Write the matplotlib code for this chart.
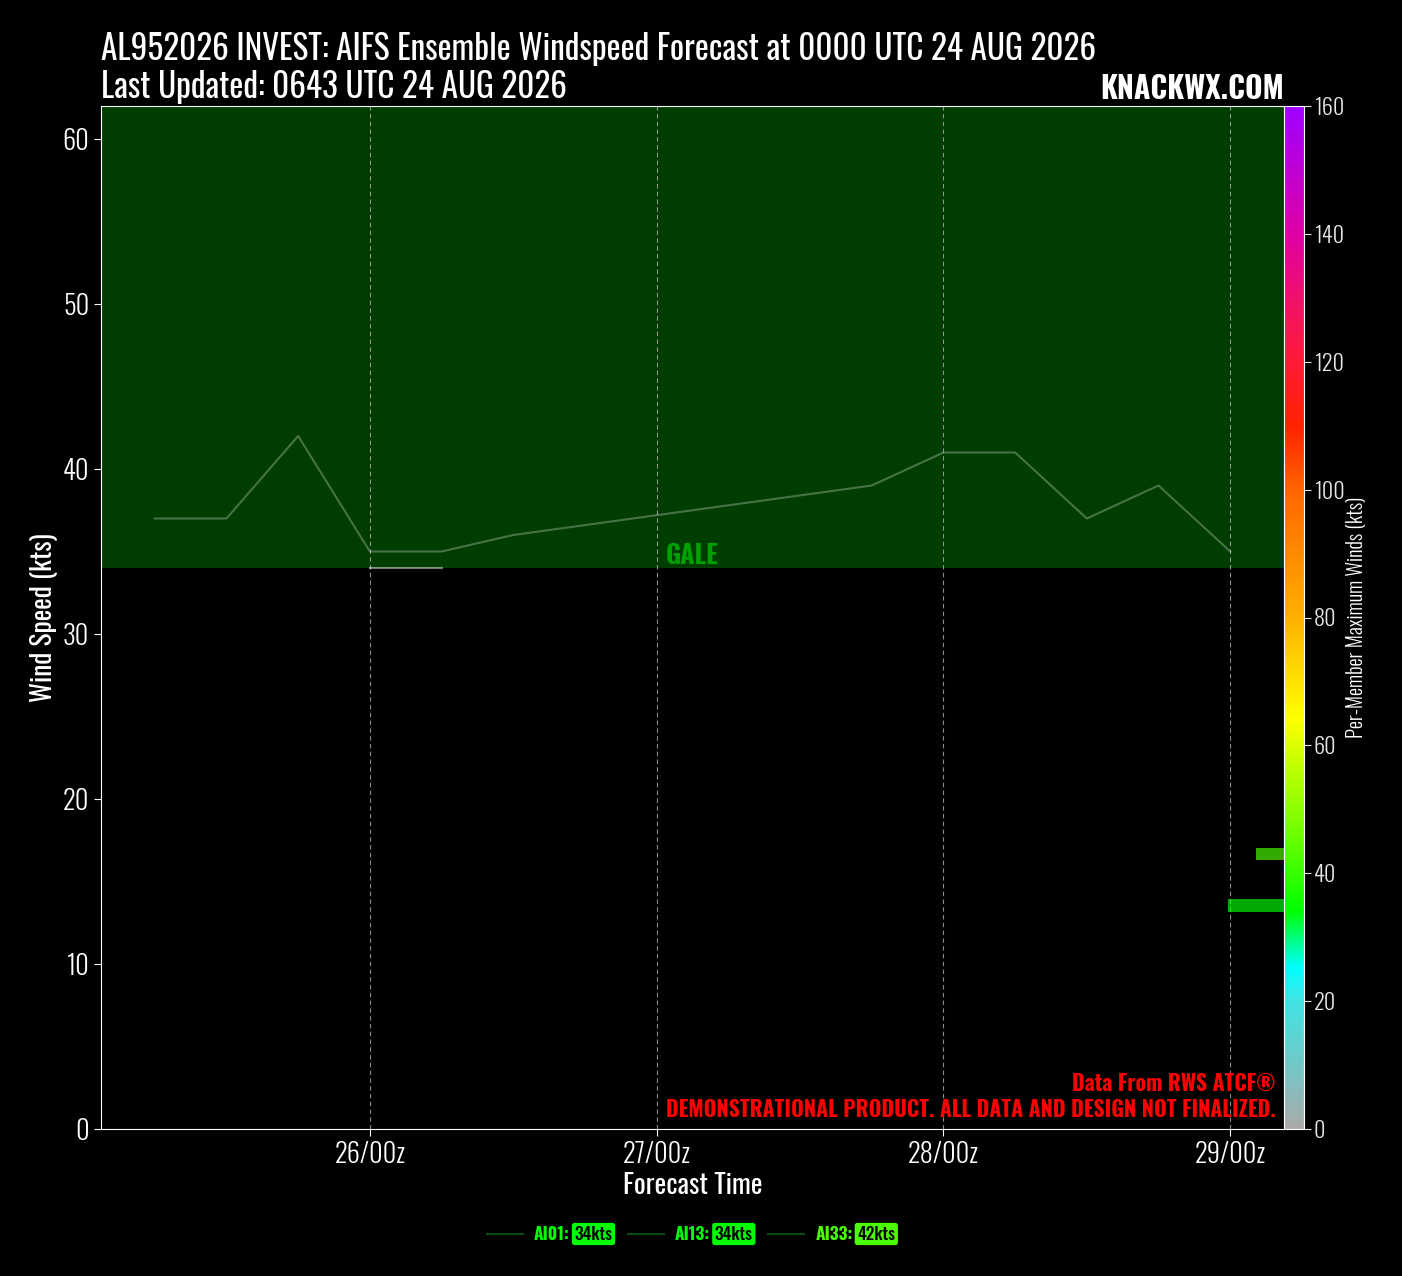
import os
import tempfile
import matplotlib
matplotlib.use("Agg")
import matplotlib.pyplot as plt
import matplotlib.dates as mdates
import matplotlib.font_manager as fm
import matplotlib.transforms as mtransforms
from matplotlib.font_manager import FontProperties
from matplotlib.colors import LinearSegmentedColormap, Normalize
from matplotlib.cm import ScalarMappable
from matplotlib.lines import Line2D

# ---------------- data ----------------
ai01_times = ["2026-08-26 00:00", "2026-08-26 06:00"]
ai01_winds = [34, 34]
ai13_times = ["2026-08-26 00:00", "2026-08-26 06:00"]
ai13_winds = [34, 34]
ai33_times = ["2026-08-25 06:00", "2026-08-25 12:00", "2026-08-25 18:00",
              "2026-08-26 00:00", "2026-08-26 06:00", "2026-08-26 12:00",
              "2026-08-27 18:00", "2026-08-28 00:00", "2026-08-28 06:00",
              "2026-08-28 12:00", "2026-08-28 18:00", "2026-08-29 00:00"]
ai33_winds = [37, 37, 42, 35, 35, 36, 39, 41, 41, 37, 39, 35]

members = ["AI01", "AI13", "AI33"]
member_max = [34, 34, 42]

xtick_times = ["2026-08-26 00:00", "2026-08-27 00:00", "2026-08-28 00:00", "2026-08-29 00:00"]
xtick_labels = ["26/00z", "27/00z", "28/00z", "29/00z"]
ytick_values = [0, 10, 20, 30, 40, 50, 60]
cbar_ticks = [0, 20, 40, 60, 80, 100, 120, 140, 160]

hist_bin_low = [34, 42]
hist_counts = [2, 1]

title1 = "AL952026 INVEST: AIFS Ensemble Windspeed Forecast at 0000 UTC 24 AUG 2026"
title2 = "Last Updated: 0643 UTC 24 AUG 2026"

# ---------------- fonts (Oswald variable font, instanced per weight) ----------------
osw_path = next((f.fname for f in fm.fontManager.ttflist if f.name == "Oswald"), None)
_cache = {}


def oswald_file(w):
    if osw_path is None:
        return None
    if w in _cache:
        return _cache[w]
    p = osw_path
    try:
        from fontTools.ttLib import TTFont
        from fontTools.varLib import instancer
        vf = TTFont(osw_path)
        inst = instancer.instantiateVariableFont(vf, {"wght": w})
        p = os.path.join(tempfile.gettempdir(), "Oswald-inst-%d.ttf" % w)
        inst.save(p)
    except Exception:
        p = osw_path
    _cache[w] = p
    return p


def fp(w, size):
    f = oswald_file(w)
    if f is None:
        return FontProperties(family="DejaVu Sans", stretch="condensed",
                              weight="bold" if w >= 600 else "normal", size=size)
    return FontProperties(fname=f, size=size)


plt.rcParams["font.family"] = ["Oswald", "DejaVu Sans"]

# ---------------- colormap ----------------
cmap = LinearSegmentedColormap.from_list("wind", [
    (0.0, "#aaaaaa"), (10/160, "#70c8c8"), (20/160, "#40e4e4"), (25/160, "#00ffff"),
    (34/160, "#00ff00"), (45/160, "#66ff00"), (58/160, "#ccff00"), (64/160, "#ffff00"),
    (80/160, "#ffb000"), (100/160, "#ff6600"), (110/160, "#ff2200"), (120/160, "#ff1a35"),
    (130/160, "#f0106a"), (140/160, "#e000a5"), (1.0, "#a000ff")])
norm = Normalize(0, 160)

# ---------------- figure ----------------
W, H = 1402, 1276
fig = plt.figure(figsize=(W/100, H/100), dpi=100, facecolor="black")
ax = fig.add_axes([101/W, 147/H, 1183/W, 1023/H])
cax = fig.add_axes([1284/W, 147/H, 20/W, 1023/H])
ax.set_facecolor("black")

ax.axhspan(34, 62, color="#003d00", zorder=0, lw=0)

for t, v in [(ai01_times, ai01_winds), (ai13_times, ai13_winds), (ai33_times, ai33_winds)]:
    ax.plot(mdates.datestr2num(t), v, color="white", alpha=0.28, lw=1.5, zorder=2)

ax.set_ylim(0, 62)
ax.set_xticks(mdates.datestr2num(xtick_times))
ax.set_xticklabels(xtick_labels)
ax.set_yticks(ytick_values)
ax.grid(axis="x", color="#b0b0b0", ls=(0, (4, 3)), lw=0.8, alpha=0.8)
ax.tick_params(colors="white", length=5, width=0.8)
tick_fp = fp(300, 19)
for lab in ax.get_xticklabels() + ax.get_yticklabels():
    lab.set_fontproperties(tick_fp)
for s in ax.spines.values():
    s.set_color("white")
    s.set_linewidth(0.8)

xl = ax.set_xlabel("Forecast Time", color="white", labelpad=3)
xl.set_fontproperties(fp(400, 16))
yl = ax.set_ylabel("Wind Speed (kts)", color="white", labelpad=3)
yl.set_fontproperties(fp(400, 16))

gale = ax.text(0.5, 34.25, "GALE", transform=mtransforms.blended_transform_factory(ax.transAxes, ax.transData),
               ha="center", va="baseline", color="#00a000", fontproperties=fp(700, 16), zorder=3)

red = ax.text(0.993, 0.008, "Data From RWS ATCF®\nDEMONSTRATIONAL PRODUCT. ALL DATA AND DESIGN NOT FINALIZED.",
              transform=ax.transAxes, ha="right", va="bottom", multialignment="right",
              color="red", fontproperties=fp(700, 13), linespacing=1.2, zorder=6)

# histogram of per-member maxima along the right edge
hax = ax.inset_axes([0, 0, 1, 1])
hax.patch.set_alpha(0)
hax.set_xlim(1183/28, 0)
hax.set_ylim(0, 160)
hax.axis("off")
hax.barh(hist_bin_low, hist_counts, height=2, align="edge",
         color=[cmap(norm(v)) for v in hist_bin_low], alpha=0.67)

# colorbar
cb = fig.colorbar(ScalarMappable(norm=norm, cmap=cmap), cax=cax, ticks=cbar_ticks)
cb.outline.set_edgecolor("white")
cb.outline.set_linewidth(0.8)
cax.tick_params(colors="#e6e6e6", length=5, width=0.8, pad=2)
cb_tick_fp = fp(300, 16)
for lab in cax.get_yticklabels():
    lab.set_fontproperties(cb_tick_fp)
cb.set_label("Per-Member Maximum Winds (kts)", color="white", labelpad=1)
cbl = cax.yaxis.label
cbl.set_fontproperties(fp(300, 12))

# titles
t1 = fig.text(101/W, 1 - 60/H, title1, color="white", fontproperties=fp(400, 22), ha="left", va="baseline")
t2 = fig.text(101/W, 1 - 98/H, title2, color="white", fontproperties=fp(400, 22), ha="left", va="baseline")
kn = fig.text(1284/W, 1 - 99/H, "KNACKWX.COM", color="white", fontproperties=fp(700, 22),
              ha="right", va="baseline")

# legend (manual)
leg_y = 1 - 1234/H
entries = []
for name, mx in zip(members, member_max):
    col = cmap(norm(mx))
    ln = Line2D([0, 0], [leg_y, leg_y], transform=fig.transFigure, color="#0b4d0b", lw=1.5)
    fig.add_artist(ln)
    a = fig.text(0, leg_y, f"{name}:", color=col, fontproperties=fp(700, 12.5), ha="left", va="center")
    b = fig.text(0, leg_y, f"{mx}kts", color="black", fontproperties=fp(500, 12.5), ha="left", va="center",
                 bbox=dict(boxstyle="round,pad=0.15", fc=col, ec="none"))
    entries.append((ln, a, b))

# fit sizes to the reference layout
fig.canvas.draw()
r = fig.canvas.get_renderer()
targets = [(t1, 997, "w"), (t2, 467, "w"), (kn, 184, "w"), (red, 610, "w"),
           (gale, 53, "w"), (xl, 140, "w"), (yl, 170, "h"), (cbl, 243, "h")]
for t, tgt, k in targets:
    bb = t.get_window_extent(r)
    cur = bb.width if k == "w" else bb.height
    if cur > 0:
        t.set_fontsize(t.get_fontsize() * tgt / cur)

fig.canvas.draw()
r = fig.canvas.get_renderer()
meas = []
total = 0
GAP1, GAP2, GAP3 = 11, 2, 13
for i, (ln, a, b) in enumerate(entries):
    wa = a.get_window_extent(r).width
    pb = b.get_bbox_patch().get_window_extent(r)
    tb = b.get_window_extent(r)
    padl = tb.x0 - pb.x0
    meas.append((wa, pb.width, padl))
    total += 36 + GAP1 + wa + GAP2 + pb.width
    if i < len(entries) - 1:
        total += GAP3
x = 692.5 - total / 2
for (ln, a, b), (wa, bw, padl) in zip(entries, meas):
    ln.set_xdata([x / W, (x + 36) / W])
    x += 36 + GAP1
    a.set_x(x / W)
    x += wa + GAP2
    b.set_x((x + padl) / W)
    x += bw + GAP3

fig.savefig("out.png", dpi=100, facecolor="black")
